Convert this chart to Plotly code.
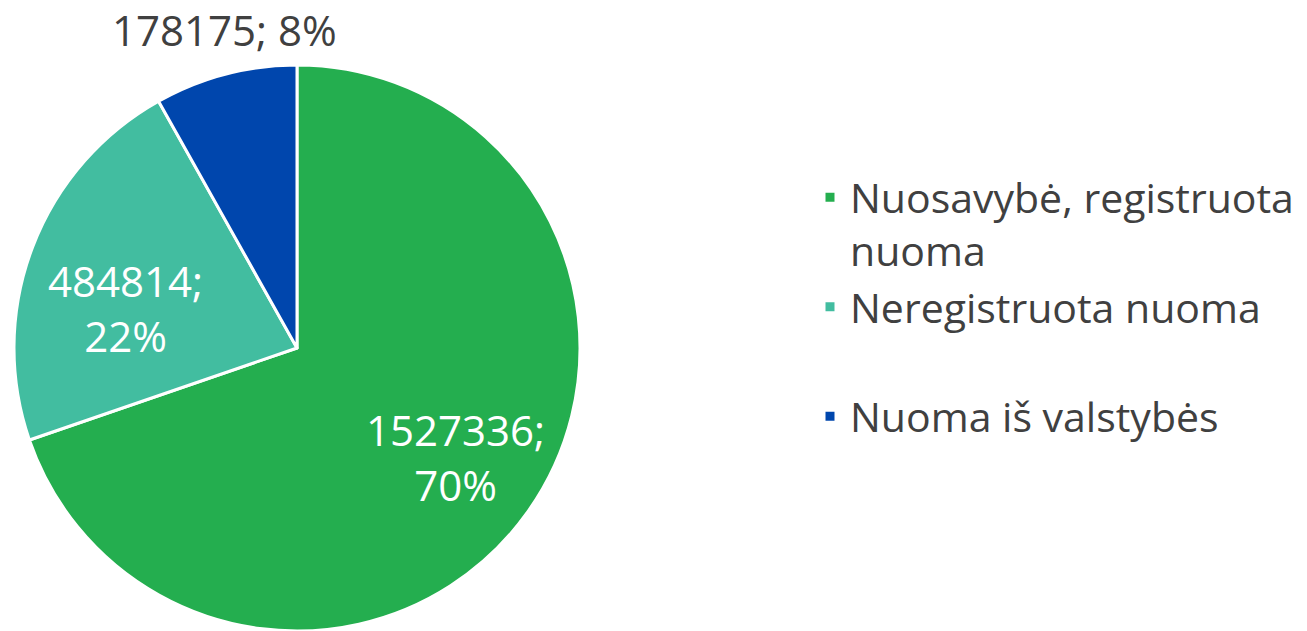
import plotly.graph_objects as go

labels = ["Nuosavybė, registruota<br>nuoma", "Neregistruota nuoma<br>&nbsp;", "Nuoma iš valstybės<br>&nbsp;"]
values = [1527336, 484814, 178175]
percents = ["70%", "22%", "8%"]
colors = ["#24AE4F", "#42BDA0", "#0046AD"]

FONT = "Open Sans"
W, H = 1307, 631

fig = go.Figure()
fig.add_trace(go.Pie(
    labels=labels,
    values=values,
    textinfo="none",
    sort=False,
    direction="clockwise",
    rotation=0,
    marker=dict(colors=colors, line=dict(color="white", width=3)),
    domain=dict(x=[14/W, 580/W], y=[0, 566/H]),
    hoverinfo="label+value+percent",
))

# data labels (text from the data arrays)
label_pos = [(455, 457), (125, 308), (224, 30)]
label_text = [f"{values[0]};<br>{percents[0]}", f"{values[1]};<br>{percents[1]}", f"{values[2]}; {percents[2]}"]
label_color = ["white", "white", "#404040"]
for (px, py), t, c in zip(label_pos, label_text, label_color):
    fig.add_annotation(
        text=t, x=px/W, y=1 - py/H, xref="paper", yref="paper",
        xanchor="center", yanchor="middle", showarrow=False, align="center",
        font=dict(family=FONT, size=42, color=c),
    )

fig.update_layout(
    width=W, height=H,
    margin=dict(l=0, r=0, t=0, b=0, autoexpand=False),
    paper_bgcolor="white", plot_bgcolor="white",
    showlegend=True,
    legend=dict(
        x=810/W, y=1 - 164/H, xanchor="left", yanchor="top",
        font=dict(family=FONT, size=41, color="#404040"),
        valign="top", tracegroupgap=0, itemclick=False,
    ),
)

fig.write_html("out.html", config={"displayModeBar": False},
               post_script="document.body.style.margin='0';")
